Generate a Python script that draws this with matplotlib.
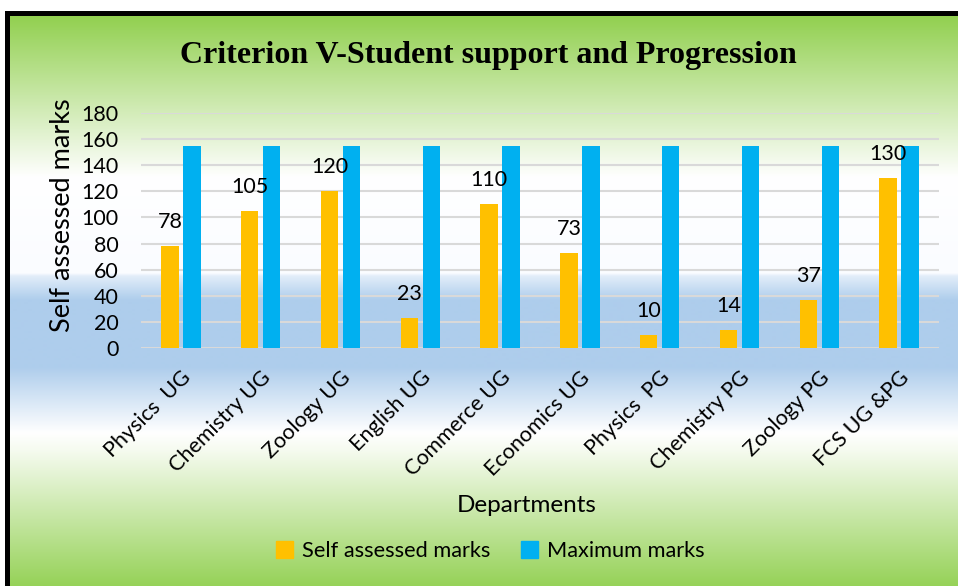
import numpy as np
import matplotlib
matplotlib.use("Agg")
import matplotlib.pyplot as plt
from matplotlib.patches import Rectangle

departments = ["Physics  UG", "Chemistry UG", "Zoology UG", "English UG", "Commerce UG",
               "Economics UG", "Physics  PG", "Chemistry PG", "Zoology PG", "FCS UG &PG"]
self_marks = [78, 105, 120, 23, 110, 73, 10, 14, 37, 130]
max_marks = [155, 155, 155, 155, 155, 155, 155, 155, 155, 155]

yellow = "#FFC000"
blue = "#00B0F0"
font = "Lato"

W, H = 958, 586
fig = plt.figure(figsize=(W / 100, H / 100), dpi=100)

# background: gradient fill and black frame (pixel coords)
bg = fig.add_axes([0, 0, 1, 1])
bg.set_xlim(0, W)
bg.set_ylim(H, 0)
bg.axis("off")
stops_y = [16, 177, 273, 276, 300, 367, 433, 450, 586]
stops_c = [(146, 208, 80), (255, 255, 255), (250, 252, 255), (226, 237, 249),
           (174, 205, 236), (174, 205, 236), (255, 255, 255), (246, 251, 240),
           (150, 210, 88)]
rows = np.arange(16, 587)
grad = np.zeros((len(rows), 1, 3))
for k in range(3):
    grad[:, 0, k] = np.interp(rows, stops_y, [c[k] for c in stops_c]) / 255
bg.imshow(grad, extent=(10, W, 586, 16), aspect="auto", interpolation="bilinear")
bg.add_patch(Rectangle((5, 11), W - 5, 5, color="black", lw=0))
bg.add_patch(Rectangle((5, 11), 5, H - 11, color="black", lw=0))

ax = fig.add_axes([141 / W, (H - 348) / H, 798 / W, 235 / H])
ax.set_facecolor("none")
x = np.arange(len(departments))
bw = 0.22
off = 0.138
ax.bar(x - off, self_marks, bw, color=yellow, zorder=3)
ax.bar(x + off, max_marks, bw, color=blue, zorder=3)
for xi, v in zip(x, self_marks):
    ax.annotate(str(v), (xi - off, v), xytext=(0, 10), textcoords="offset points",
                ha="center", va="bottom", fontsize=15.5, family=font)

ax.set_xlim(-0.5, len(departments) - 0.5)
ax.set_ylim(0, 180)
ax.set_yticks(range(0, 181, 20))
ax.yaxis.grid(True, color="#D9D9D9", lw=1.5, zorder=0)
for s in ax.spines.values():
    s.set_visible(False)
ax.tick_params(length=0)
ax.tick_params(axis="y", pad=16)
ax.set_xticks(x)
ax.set_xticklabels(departments, rotation=45, ha="right", va="top",
                   rotation_mode="anchor", fontsize=15.5, family=font)
for t in ax.get_yticklabels():
    t.set_fontsize(15.5)
    t.set_family(font)
ax.tick_params(axis="x", pad=14)

ax.set_xlabel("Departments", fontsize=17.5, family=font, va="center")
ax.xaxis.set_label_coords((527 - 141) / 798, (348 - 505) / 235)
ax.set_ylabel("Self assessed marks", fontsize=19.5, family=font, va="center")
ax.yaxis.set_label_coords((62 - 141) / 798, (348 - 215) / 235)

fig.text(488 / W, (H - 55) / H, "Criterion V-Student support and Progression",
         ha="center", va="center", fontsize=23, fontweight="bold",
         family="Liberation Serif")

handles = [Rectangle((0, 0), 1, 1, color=yellow), Rectangle((0, 0), 1, 1, color=blue)]
fig.legend(handles, ["Self assessed marks", "Maximum marks"], loc="center",
           bbox_to_anchor=(490 / W, (H - 551) / H), ncol=2, frameon=False,
           handlelength=0.8, handleheight=0.8, handletextpad=0.4, columnspacing=1.4,
           prop={"family": font, "size": 15.7})

fig.savefig("out.png", dpi=100)
